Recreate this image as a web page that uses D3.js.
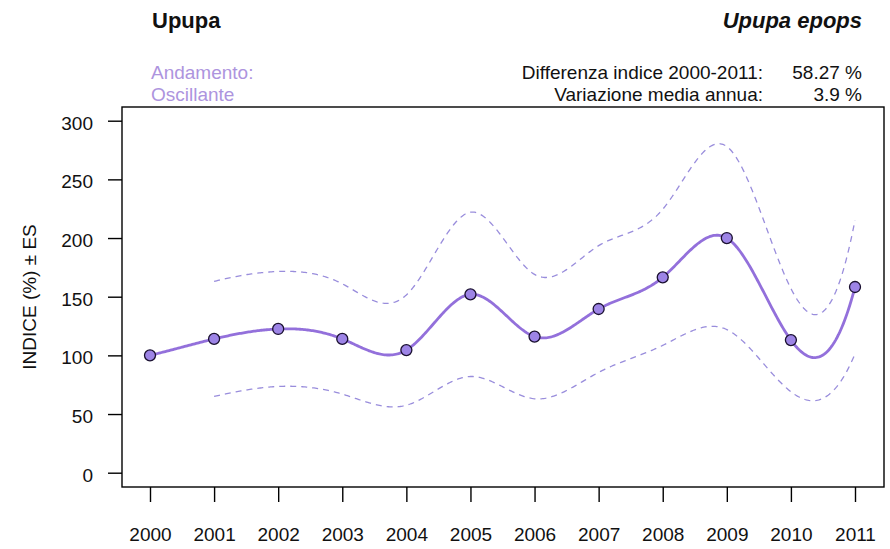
<!DOCTYPE html>
<html>
<head>
<meta charset="utf-8">
<script src="https://cdn.jsdelivr.net/npm/d3@7"></script>
<style>
  body { margin: 0; background: #fff; }
  svg text { font-family: "Liberation Sans", Arial, sans-serif; }
</style>
</head>
<body>
<svg id="chart" width="890" height="549"></svg>
<script>
// Annual index values (2000 = 100) and their standard errors
const years = [2000, 2001, 2002, 2003, 2004, 2005, 2006, 2007, 2008, 2009, 2010, 2011];
const indexValues = [100, 114, 122.5, 114, 104.5, 152, 116, 139.5, 166.5, 200, 113, 158.27];
const seYears = [2001, 2002, 2003, 2004, 2005, 2006, 2007, 2008, 2009, 2010, 2011];
const stdErrors = [49, 49, 47, 47, 70, 53, 54, 58, 78, 44, 57];
const yTicks = [0, 50, 100, 150, 200, 250, 300];

const titleLeft = "Upupa";
const titleRight = "Upupa epops";
const trendLabel = ["Andamento:", "Oscillante"];
const statLabels = ["Differenza indice 2000-2011:", "Variazione media annua:"];
const statValues = ["58.27 %", "3.9 %"];

const svg = d3.select("#chart");
const box = { left: 122, right: 884, top: 107, bottom: 487 };

const x = d3.scaleLinear().domain([2000, 2011]).range([150, 855]);
const y = d3.scaleLinear().domain([0, 300]).range([472.7, 120.7]);

const purple = "#9370DB";
const lavender = "#ad94de";
const dashColor = "#998ddc";

// Cubic interpolating spline with Forsythe–Malcolm–Moler end conditions
function fmmSpline(xs, ys) {
  const n = xs.length, nm1 = n - 1;
  const b = new Array(n).fill(0), c = new Array(n).fill(0), d = new Array(n).fill(0);
  d[0] = xs[1] - xs[0];
  c[1] = (ys[1] - ys[0]) / d[0];
  for (let i = 1; i < nm1; i++) {
    d[i] = xs[i + 1] - xs[i];
    b[i] = 2 * (d[i - 1] + d[i]);
    c[i + 1] = (ys[i + 1] - ys[i]) / d[i];
    c[i] = c[i + 1] - c[i];
  }
  b[0] = -d[0];
  b[nm1] = -d[n - 2];
  c[0] = c[nm1] = 0;
  if (n > 3) {
    c[0] = c[2] / (xs[3] - xs[1]) - c[1] / (xs[2] - xs[0]);
    c[nm1] = c[n - 2] / (xs[nm1] - xs[n - 3]) - c[n - 3] / (xs[n - 2] - xs[n - 4]);
    c[0] = c[0] * d[0] * d[0] / (xs[3] - xs[0]);
    c[nm1] = -c[nm1] * d[n - 2] * d[n - 2] / (xs[nm1] - xs[n - 4]);
  }
  for (let i = 1; i <= nm1; i++) {
    const t = d[i - 1] / b[i - 1];
    b[i] -= t * d[i - 1];
    c[i] -= t * c[i - 1];
  }
  c[nm1] /= b[nm1];
  for (let i = n - 2; i >= 0; i--) c[i] = (c[i] - d[i] * c[i + 1]) / b[i];
  b[nm1] = (ys[nm1] - ys[n - 2]) / d[n - 2] + d[n - 2] * (c[n - 2] + 2 * c[nm1]);
  for (let i = 0; i < nm1; i++) {
    b[i] = (ys[i + 1] - ys[i]) / d[i] - d[i] * (c[i + 1] + 2 * c[i]);
    d[i] = (c[i + 1] - c[i]) / d[i];
    c[i] = 3 * c[i];
  }
  c[nm1] = 3 * c[nm1];
  d[nm1] = d[n - 2];
  return t => {
    const i = Math.min(nm1 - 1, Math.max(0, d3.bisectRight(xs, t) - 1));
    const dx = t - xs[i];
    return ys[i] + dx * (b[i] + dx * (c[i] + dx * d[i]));
  };
}

// Plot frame
svg.append("rect")
  .attr("x", box.left).attr("y", box.top)
  .attr("width", box.right - box.left).attr("height", box.bottom - box.top)
  .attr("fill", "none").attr("stroke", "#000").attr("stroke-width", 1.4);

// Y axis
const yAxis = svg.append("g")
  .attr("transform", `translate(${box.left},0)`)
  .call(d3.axisLeft(y).tickValues(yTicks).tickSize(14).tickPadding(15).tickSizeOuter(0));
yAxis.select(".domain").remove();
yAxis.selectAll(".tick line").attr("stroke", "#000").attr("stroke-width", 1.4);
yAxis.selectAll(".tick text").attr("font-size", 19).attr("fill", "#111")
  .attr("font-family", "Liberation Sans, Arial, sans-serif").attr("dy", "0.45em");

// X axis
const xAxis = svg.append("g")
  .attr("transform", `translate(0,${box.bottom})`)
  .call(d3.axisBottom(x).tickValues(years).tickFormat(d3.format("d"))
    .tickSize(15).tickPadding(26).tickSizeOuter(0));
xAxis.select(".domain").remove();
xAxis.selectAll(".tick line").attr("stroke", "#000").attr("stroke-width", 1.4);
xAxis.selectAll(".tick text").attr("font-size", 19).attr("fill", "#111")
  .attr("font-family", "Liberation Sans, Arial, sans-serif");

// Y axis title
svg.append("text")
  .attr("transform", `translate(36,297) rotate(-90)`)
  .attr("text-anchor", "middle")
  .attr("font-size", 19).attr("fill", "#111")
  .text("INDICE (%) ± ES");

// Smoothed index and standard-error curves
const indexCurve = fmmSpline(years, indexValues);
const seCurve = fmmSpline(seYears, stdErrors);

// Confidence band: smoothed index ± smoothed SE, dashed
const band = d3.range(seYears[0], seYears[seYears.length - 1] + 1e-9, 0.02)
  .map(t => ({ t, v: indexCurve(t), se: seCurve(t) }));
[1, -1].forEach(sign => {
  svg.append("path")
    .datum(band)
    .attr("d", d3.line().x(d => x(d.t)).y(d => y(d.v + sign * d.se)))
    .attr("fill", "none")
    .attr("stroke", dashColor)
    .attr("stroke-width", 1.3)
    .attr("stroke-dasharray", "6,5");
});

// Index trend line
const trend = d3.range(years[0], years[years.length - 1] + 1e-9, 0.02)
  .map(t => ({ t, v: indexCurve(t) }));
svg.append("path")
  .datum(trend)
  .attr("d", d3.line().x(d => x(d.t)).y(d => y(d.v)))
  .attr("fill", "none")
  .attr("stroke", purple)
  .attr("stroke-width", 2.8);

// Data points
const pts = years.map((yr, i) => ({ yr, v: indexValues[i] }));
svg.selectAll("circle.pt")
  .data(pts)
  .enter().append("circle")
  .attr("class", "pt")
  .attr("cx", d => x(d.yr))
  .attr("cy", d => y(d.v))
  .attr("r", 5.5)
  .attr("fill", "#9d84e6")
  .attr("stroke", "#1a1030")
  .attr("stroke-width", 1.3);

// Headers
svg.append("text")
  .attr("x", 152).attr("y", 28)
  .attr("font-size", 22).attr("font-weight", "bold").attr("fill", "#111")
  .text(titleLeft);
svg.append("text")
  .attr("x", 862).attr("y", 28)
  .attr("text-anchor", "end")
  .attr("font-size", 22).attr("font-weight", "bold").attr("font-style", "italic").attr("fill", "#111")
  .text(titleRight);

trendLabel.forEach((t, i) => {
  svg.append("text")
    .attr("x", 151).attr("y", 78.5 + i * 22)
    .attr("font-size", 19).attr("fill", lavender)
    .text(t);
});
statLabels.forEach((t, i) => {
  svg.append("text")
    .attr("x", 763).attr("y", 78.5 + i * 22)
    .attr("text-anchor", "end")
    .attr("font-size", 19).attr("fill", "#111")
    .text(t);
  svg.append("text")
    .attr("x", 862).attr("y", 78.5 + i * 22)
    .attr("text-anchor", "end")
    .attr("font-size", 19).attr("fill", "#111")
    .text(statValues[i]);
});
</script>
</body>
</html>
